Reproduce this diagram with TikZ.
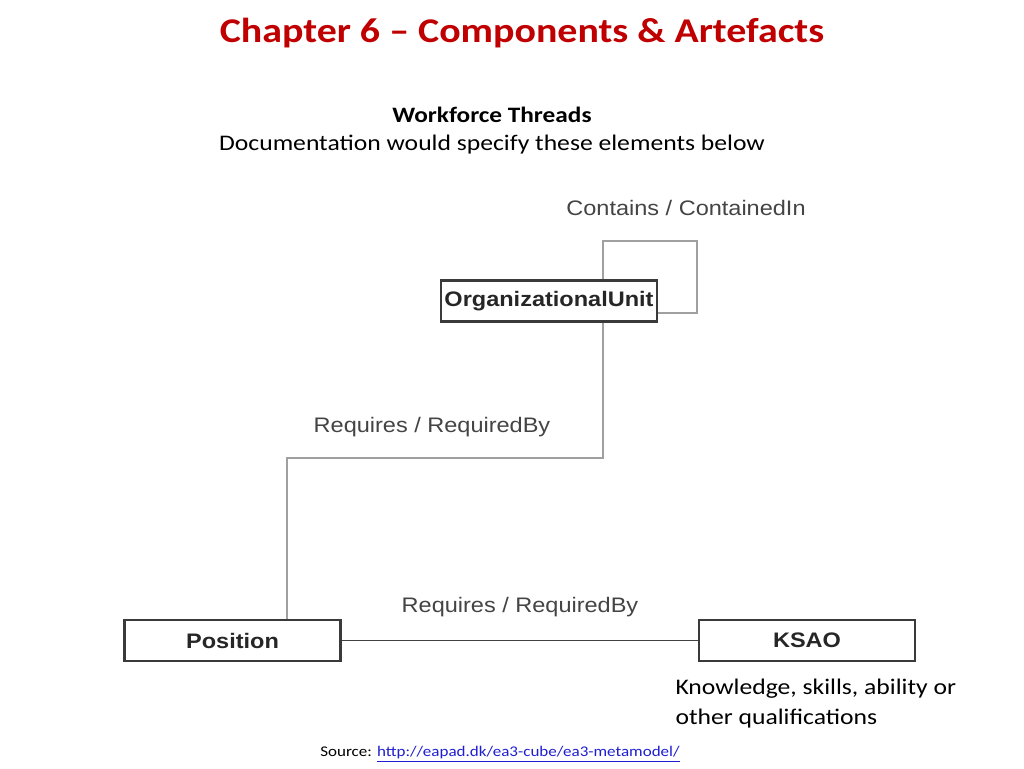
\documentclass[tikz,border=0pt]{standalone}
\usepackage{fontspec}
\setmainfont[FakeStretch=1.15]{Carlito}
\newfontfamily\diafont[FakeStretch=1.12]{Liberation Sans}
\usetikzlibrary{positioning}
\definecolor{titlered}{HTML}{C00000}
\definecolor{linkgray}{HTML}{A0A0A0}
\definecolor{boxgray}{HTML}{3A3A3A}
\definecolor{labelgray}{HTML}{444444}
\definecolor{urlblue}{HTML}{1F1FD0}
\tikzset{
    entity/.style={draw=boxgray, line width=2.6pt, fill=white,
        minimum width=216pt, minimum height=41pt, inner sep=0pt,
        font=\diafont\fontsize{21}{24}\selectfont\bfseries, text=black!85},
    relname/.style={font=\diafont\fontsize{21}{24}\selectfont, text=labelgray},
    thread/.style={draw=linkgray, line width=2.6pt},
    thinthread/.style={draw=black!75, line width=0.9pt}
}

\begin{document}
\begin{tikzpicture}[x=1pt, y=-1pt]
    \useasboundingbox[fill=white] (0,0) rectangle (1024,768);
    % heading
    \node[font=\fontsize{34.7}{40}\selectfont\bfseries, text=titlered] (title) at (522,33)
        {Chapter 6 -- Components \& Artefacts};
    \node[font=\fontsize{22}{26}\selectfont\bfseries] (sub) at (492,115) {Workforce Threads};
    \node[font=\fontsize{22.3}{26}\selectfont] (doc) at (492,145)
        {Documentation would specify these elements below};
    % entities
    \node[entity] (ou) at (549,301) {OrganizationalUnit};
    \node[entity] (pos) at (232.5,640.5) {Position};
    \node[entity] (ksao) at (807,640.5) {KSAO};
    % threads
    \coordinate (lt) at (603,241);
    \coordinate (rb) at (697,313);
    \coordinate (b1) at (603,458);
    \coordinate (b2) at (287,458);
    \draw[thread] (lt |- ou.north) -- (lt) -| (rb) -- (rb -| ou.east);
    \draw[thread] (b1 |- ou.south) -- (b1) -- (b2) -- (b2 |- pos.north);
    \draw[thinthread] (pos) -- (ksao);
    % relation names
    \node[relname] (r0) at (686,208) {Contains / ContainedIn};
    \node[relname] (r1) at (432,427) {Requires / RequiredBy};
    \node[relname] (r2) at (520,607) {Requires / RequiredBy};
    % notes
    \node[font=\fontsize{22.3}{30}\selectfont, align=left, anchor=north west] (note) at (672,675)
        {Knowledge, skills, ability or\\other qualifications};
    \node[font=\fontsize{14.8}{18}\selectfont] (src) at (500,754)
        {Source: \textcolor{urlblue}{\underline{http://eapad.dk/ea3-cube/ea3-metamodel/}}};
\end{tikzpicture}
\end{document}
